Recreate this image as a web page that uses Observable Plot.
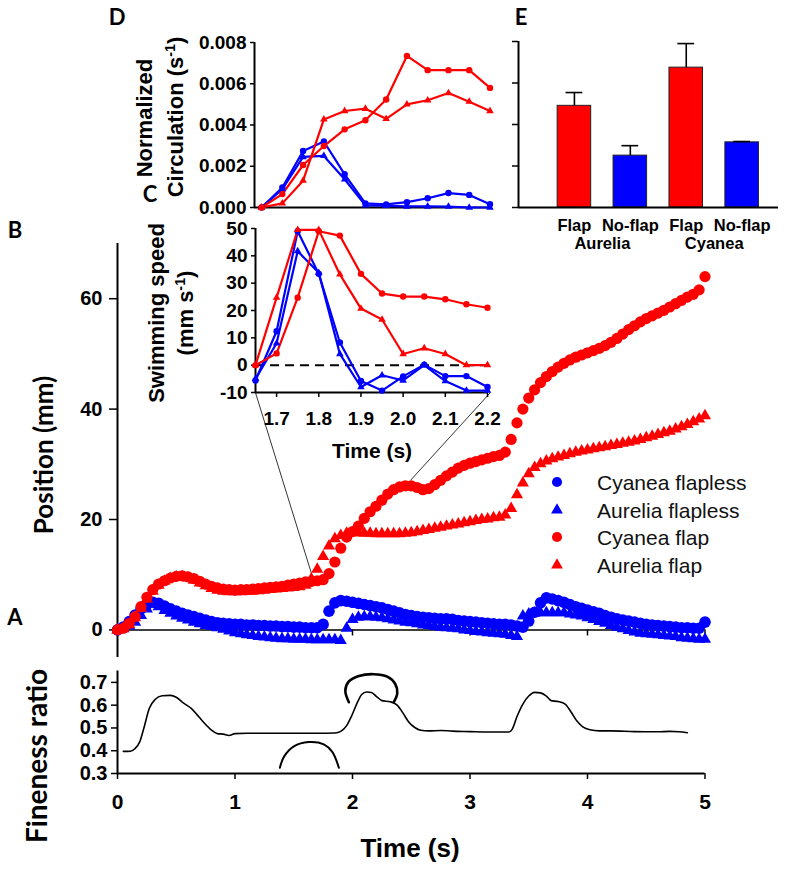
<!DOCTYPE html>
<html><head><meta charset="utf-8">
<script src="https://cdn.jsdelivr.net/npm/d3@7"></script>
<script src="https://cdn.jsdelivr.net/npm/@observablehq/plot@0.6"></script>
<style>
body{margin:0;background:#fff}
#wrap{position:relative;width:786px;height:873px;overflow:hidden;background:#fff}
#wrap > svg{position:absolute;left:0;top:0;background:transparent !important;overflow:visible}
.lab{position:absolute;white-space:nowrap;color:#000;line-height:1}
</style>
</head><body><div id="wrap"></div>
<script>
// ---------- DATA ----------
// Panel B: position (mm), sampled every 0.05 s from 0 to 5 s
const frameStep = 0.05;
const cyaneaFlap = [0,0.3,1.2,2.4,4.2,5.9,7.3,8.3,8.9,9.4,9.7,9.8,9.6,9.3,8.8,8.3,7.9,7.6,7.4,7.3,
  7.2,7.3,7.3,7.4,7.5,7.6,7.7,7.8,7.9,8.1,8.3,8.5,8.7,8.8,8.9,9.1,10.2,12.3,14.8,16.8,
  17.8,18.8,20.2,21.4,22.4,23.5,24.6,25.4,25.9,26.1,26.1,25.8,25.4,25.6,26.3,27.1,27.9,28.6,29.3,29.8,
  30.2,30.5,30.8,31.1,31.4,31.6,32.2,34.5,37.5,40.0,42.0,43.5,44.8,45.9,46.8,47.6,48.3,48.9,49.4,49.8,
  50.2,50.6,51.0,51.5,52.1,52.8,53.6,54.4,55.1,55.8,56.4,56.9,57.4,57.9,58.5,59.1,59.7,60.3,60.8,61.6,64.0];
const aureliaFlap = [0,0.3,1.0,2.2,3.9,5.6,7.0,8.1,8.8,9.3,9.6,9.6,9.4,9.0,8.5,8.0,7.5,7.2,7.0,6.9,
  6.9,6.9,7.0,7.0,7.1,7.2,7.3,7.4,7.5,7.6,7.7,7.8,8.1,9.2,11.0,13.3,15.2,16.5,17.1,17.5,
  17.6,17.6,17.5,17.5,17.4,17.4,17.4,17.4,17.4,17.5,17.6,17.8,18.0,18.2,18.4,18.6,18.8,19.0,19.2,19.4,
  19.6,19.8,20.0,20.1,20.3,20.4,20.8,22.0,24.5,26.6,28.3,29.4,30.1,30.6,31.0,31.3,31.6,31.9,32.2,32.4,
  32.6,32.8,33.0,33.2,33.4,33.6,33.8,34.0,34.2,34.5,34.8,35.1,35.4,35.7,36.0,36.4,36.8,37.2,37.7,38.2,38.8];
const cyaneaFlapless = [0,0.5,1.5,2.7,3.8,4.6,5.0,4.8,4.3,3.8,3.4,3.0,2.7,2.4,2.1,1.8,1.5,1.3,1.2,1.1,
  1.0,1.0,0.9,0.9,0.8,0.8,0.7,0.7,0.6,0.6,0.5,0.5,0.4,0.4,0.4,1.0,3.4,4.9,5.3,5.2,
  5.0,4.8,4.6,4.4,4.2,4.0,3.7,3.4,3.1,2.8,2.6,2.4,2.3,2.2,2.1,2.0,2.0,1.9,1.7,1.6,
  1.5,1.4,1.3,1.2,1.1,1.0,1.0,0.9,0.7,0.5,1.6,3.2,4.9,5.8,5.6,5.3,5.0,4.6,4.2,3.9,
  3.6,3.3,3.0,2.6,2.3,2.0,1.8,1.6,1.4,1.2,1.0,0.9,0.8,0.7,0.6,0.5,0.4,0.4,0.3,0.3,1.4];
const aureliaFlapless = [0,0.2,0.7,1.4,2.6,3.8,4.6,4.2,3.5,3.0,2.5,2.1,1.8,1.4,1.1,0.8,0.6,0.4,0.1,-0.2,
  -0.5,-0.7,-0.9,-1.0,-1.2,-1.3,-1.4,-1.5,-1.6,-1.6,-1.7,-1.7,-1.7,-1.8,-1.8,-1.8,-1.8,-1.8,-1.9,0.3,
  1.9,2.3,2.4,2.4,2.3,2.2,2.0,1.8,1.6,1.4,1.3,1.1,0.9,0.8,0.6,0.5,0.4,0.3,0.2,0.0,
  -0.1,-0.3,-0.4,-0.5,-0.6,-0.7,-0.8,-1.0,-1.2,2.5,2.9,3.0,3.1,3.1,3.1,3.1,3.1,2.9,2.7,2.5,
  2.2,1.9,1.5,1.2,0.8,0.5,0.2,-0.1,-0.4,-0.6,-0.7,-0.8,-0.9,-1.0,-1.1,-1.2,-1.4,-1.5,-1.6,-1.7,-1.7];
const posTicks = [0, 20, 40, 60];
const timeTicks = [0, 1, 2, 3, 4, 5];
const legendNames = ["Cyanea flapless", "Aurelia flapless", "Cyanea flap", "Aurelia flap"];

// Zoom connector lines (panel C -> panel B), in panel-B data units
const zoomLinks = [
  {t1: 1.174, mm1: 43.0, t2: 1.651, mm2: 10.2},
  {t1: 3.174, mm1: 43.0, t2: 2.494, mm2: 27.1}
];

// Panel A: fineness ratio
const fineT = [0.05,0.11,0.15,0.19,0.23,0.27,0.32,0.38,0.45,0.5,0.56,0.63,0.69,0.75,0.8,0.85,0.9,0.95,1.0,1.1,
  1.3,1.5,1.7,1.85,1.9,1.95,1.99,2.04,2.08,2.12,2.16,2.2,2.25,2.32,2.38,2.43,2.48,2.53,2.58,2.65,
  2.75,2.85,3.0,3.15,3.33,3.36,3.4,3.45,3.5,3.55,3.6,3.65,3.69,3.75,3.81,3.86,3.91,3.96,4.02,4.1,
  4.2,4.4,4.6,4.7,4.78,4.85];
const fineV = [0.397,0.398,0.41,0.44,0.51,0.585,0.625,0.641,0.643,0.635,0.61,0.585,0.55,0.515,0.49,0.475,0.473,0.467,0.475,0.477,
  0.477,0.477,0.477,0.478,0.485,0.51,0.55,0.61,0.648,0.658,0.656,0.64,0.62,0.615,0.6,0.565,0.525,0.502,0.49,0.487,
  0.489,0.486,0.484,0.482,0.482,0.495,0.55,0.605,0.64,0.656,0.654,0.64,0.62,0.616,0.605,0.57,0.53,0.505,0.492,0.487,
  0.487,0.484,0.483,0.485,0.483,0.479];
const fineTicks = [0.3, 0.4, 0.5, 0.6, 0.7];
// bell outline icons
const relaxedT = [1.382,1.416,1.501,1.628,1.756,1.828,1.884];
const relaxedV = [0.325,0.373,0.419,0.438,0.428,0.395,0.325];
const contractedT = [1.969,1.939,1.969,2.054,2.181,2.296,2.364,2.381,2.351];
const contractedV = [0.613,0.664,0.704,0.728,0.736,0.725,0.693,0.652,0.613];

// Panels C and D: inset time
const insetT = [1.65,1.70,1.75,1.80,1.85,1.90,1.95,2.00,2.05,2.10,2.15,2.20];
// Panel D: normalized circulation (s^-1)
const circCyaneaFlap = [0,0.00065,0.00206,0.00298,0.00379,0.00423,0.00524,0.00735,0.00666,0.00666,0.00666,0.0058];
const circAureliaFlap = [0,0.0002,0.0013,0.00427,0.00468,0.00479,0.0043,0.005,0.0052,0.00555,0.00513,0.00468];
const circCyaneaFlapless = [0,0.00097,0.00274,0.0032,0.00161,0.0002,0.00015,0.00026,0.00045,0.0007,0.00061,0.00016];
const circAureliaFlapless = [0,0.00089,0.00245,0.0025,0.00137,0.0001,0.00008,0.00005,0.00005,0.00004,0,0];
const circTicks = [0, 0.002, 0.004, 0.006, 0.008];
// Panel C: swimming speed (mm s^-1)
const speedCyaneaFlap = [0,4.3,24.7,49,47.4,33.4,26.2,25.1,25.1,24.1,22.3,21.0];
const speedAureliaFlap = [0,24.7,49.5,49.5,33.2,20.7,16.7,4.1,6.2,4.1,0,0];
const speedCyaneaFlapless = [-5.6,12.4,49,33.4,8.3,-5.8,-9.3,-4.1,0.2,-4,-4,-8];
const speedAureliaFlapless = [-5,8,41.7,33.8,4.1,-8,-3.7,-5.6,0,-5.8,-9.3,-9.3];
const speedTicks = [-10, 0, 10, 20, 30, 40, 50];
const insetTimeTicks = [1.7, 1.8, 1.9, 2.0, 2.1, 2.2];

// Panel E: bars
const barLabels = ["Flap", "No-flap", "Flap", "No-flap"];
const barSpecies = ["Aurelia", "Aurelia", "Cyanea", "Cyanea"];
const barValues = [0.0049, 0.0025, 0.00674, 0.00314];
const barErrors = [0.00064, 0.00048, 0.00116, 0.00004];
const barFlap = [true, false, true, false];
const speciesNames = ["Aurelia", "Cyanea"];
const barTicks = [0, 0.002, 0.004, 0.006, 0.008];

// ---------- RENDER ----------
const W = 786, H = 873;
const RED = "#ff0000", BLUE = "#0000ff";
const SANS = "'Liberation Sans', Arial, sans-serif";
const NARROW = "'Liberation Sans Narrow', 'Arial Narrow', 'Liberation Sans', sans-serif";
const HUMAN = "Lato, 'Open Sans', sans-serif";
const wrap = document.getElementById("wrap");

function box(x0, x1, y0, y1) {
  return {width: W, height: H, marginLeft: x0, marginRight: W - x1, marginTop: y0, marginBottom: H - y1,
    style: {background: "transparent", overflow: "visible"}};
}
function label(html, x, y, o = {}) {
  const d = document.createElement("div");
  d.className = "lab";
  d.innerHTML = html;
  d.style.left = x + "px"; d.style.top = y + "px";
  d.style.fontSize = (o.size || 20) + "px";
  d.style.fontWeight = o.weight || "bold";
  d.style.fontFamily = o.family || SANS;
  if (o.color) d.style.color = o.color;
  const anchor = o.anchor === "start" ? "0%" : "-50%";
  d.style.transform = `translate(${anchor},-50%)`;
  if (o.rotate) { d.style.transform = `translate(-50%,-50%) rotate(${o.rotate}deg)`; }
  wrap.appendChild(d);
}

const times = cyaneaFlap.map((_, i) => +(i * frameStep).toFixed(2));
const rows = (vals) => vals.map((v, i) => ({t: times[i], v}));
const inset = (vals) => vals.map((v, i) => ({t: insetT[i], v}));
const pairs = (ts, vs) => ts.map((t, i) => ({t, v: vs[i]}));

// Panel B
wrap.appendChild(Plot.plot({
  ...box(117, 704.5, 243, 657),
  x: {domain: [0, 5], axis: null},
  y: {domain: [-5, 70]},
  marks: [
    Plot.ruleX([0], {y1: -5, y2: 70, strokeWidth: 2}),
    Plot.axisY({ticks: posTicks, tickFormat: d => String(d), tickSize: 8, tickPadding: 7, fontSize: 20, fontWeight: "bold", fontFamily: SANS, label: null, strokeWidth: 1.5}),
    Plot.ruleY([0], {x1: 0, x2: 5, strokeWidth: 1.5}),
    Plot.ruleX(timeTicks, {y1: 0, y2: -1.1, strokeWidth: 1.5}),
    Plot.link(zoomLinks, {x1: "t1", y1: "mm1", x2: "t2", y2: "mm2", stroke: "#000", strokeWidth: 0.8}),
    Plot.dot(rows(cyaneaFlapless), {x: "t", y: "v", r: 5.8, fill: BLUE, symbol: "circle"}),
    Plot.dot(rows(aureliaFlapless), {x: "t", y: "v", r: 4.5, fill: BLUE, symbol: "triangle"}),
    Plot.dot(rows(cyaneaFlap), {x: "t", y: "v", r: 5.6, fill: RED, symbol: "circle"}),
    Plot.dot(rows(aureliaFlap), {x: "t", y: "v", r: 4.5, fill: RED, symbol: "triangle"})
  ]
}));

// Panel A
wrap.appendChild(Plot.plot({
  ...box(117, 704.5, 670.5, 773),
  x: {domain: [0, 5]},
  y: {domain: [0.3, 0.75]},
  marks: [
    Plot.ruleX([0], {y1: 0.3, y2: 0.75, strokeWidth: 2}),
    Plot.ruleY([0.3], {x1: 0, x2: 5, strokeWidth: 2}),
    Plot.axisY({ticks: fineTicks, tickFormat: d3.format(".1f"), tickSize: 6, tickPadding: 4, fontSize: 20, fontWeight: "bold", fontFamily: NARROW, label: null, strokeWidth: 1.5}),
    Plot.axisX({ticks: timeTicks, tickFormat: d => String(d), tickSize: 6, tickPadding: 15, fontSize: 21, fontWeight: "bold", fontFamily: NARROW, label: null, strokeWidth: 1.5}),
    Plot.line(pairs(fineT, fineV), {x: "t", y: "v", curve: "monotone-x", strokeWidth: 1.6}),
    Plot.line(pairs(relaxedT, relaxedV), {x: "t", y: "v", curve: "catmull-rom", strokeWidth: 2}),
    Plot.line(pairs(contractedT, contractedV), {x: "t", y: "v", curve: "catmull-rom", strokeWidth: 2.6})
  ]
}));

// Panel D
const dMin = 1.633;
wrap.appendChild(Plot.plot({
  ...box(254, 489.5, 42, 207),
  x: {domain: [dMin, 2.2], axis: null},
  y: {domain: [0, 0.008]},
  marks: [
    Plot.ruleX([dMin], {y1: 0, y2: 0.008, strokeWidth: 2}),
    Plot.ruleY([0], {x1: dMin, x2: 2.2, strokeWidth: 2}),
    Plot.axisY({ticks: circTicks, tickFormat: d3.format(".3f"), tickSize: 4, tickPadding: 4, fontSize: 19, fontWeight: "bold", fontFamily: SANS, label: null, strokeWidth: 1.5}),
    Plot.line(inset(circCyaneaFlapless), {x: "t", y: "v", stroke: BLUE, strokeWidth: 2.2}),
    Plot.line(inset(circAureliaFlapless), {x: "t", y: "v", stroke: BLUE, strokeWidth: 2.2}),
    Plot.line(inset(circCyaneaFlap), {x: "t", y: "v", stroke: RED, strokeWidth: 2.2}),
    Plot.line(inset(circAureliaFlap), {x: "t", y: "v", stroke: RED, strokeWidth: 2.2}),
    Plot.dot(inset(circCyaneaFlapless), {x: "t", y: "v", r: 3.2, fill: BLUE, symbol: "circle"}),
    Plot.dot(inset(circAureliaFlapless), {x: "t", y: "v", r: 2.8, fill: BLUE, symbol: "triangle"}),
    Plot.dot(inset(circCyaneaFlap), {x: "t", y: "v", r: 3.2, fill: RED, symbol: "circle"}),
    Plot.dot(inset(circAureliaFlap), {x: "t", y: "v", r: 2.8, fill: RED, symbol: "triangle"})
  ]
}));

// Panel C
wrap.appendChild(Plot.plot({
  ...box(255, 487, 228, 392),
  x: {domain: [1.65, 2.2]},
  y: {domain: [-10, 50]},
  marks: [
    Plot.ruleX([1.65], {y1: -10, y2: 50, strokeWidth: 2}),
    Plot.ruleY([-10], {x1: 1.65, x2: 2.2, strokeWidth: 2}),
    Plot.ruleY([0], {x1: 1.65, x2: 2.2, strokeWidth: 2, strokeDasharray: "9,6"}),
    Plot.axisY({ticks: speedTicks, tickFormat: d => String(d), tickSize: 4, tickPadding: 4, fontSize: 19, fontWeight: "bold", fontFamily: SANS, label: null, strokeWidth: 1.5}),
    Plot.axisX({ticks: insetTimeTicks, tickFormat: d3.format(".1f"), tickSize: 5, tickPadding: 14, fontSize: 19, fontWeight: "bold", fontFamily: SANS, label: null, strokeWidth: 1.5}),
    Plot.line(inset(speedCyaneaFlapless), {x: "t", y: "v", stroke: BLUE, strokeWidth: 2.2}),
    Plot.line(inset(speedAureliaFlapless), {x: "t", y: "v", stroke: BLUE, strokeWidth: 2.2}),
    Plot.line(inset(speedCyaneaFlap), {x: "t", y: "v", stroke: RED, strokeWidth: 2.2}),
    Plot.line(inset(speedAureliaFlap), {x: "t", y: "v", stroke: RED, strokeWidth: 2.2}),
    Plot.dot(inset(speedCyaneaFlapless), {x: "t", y: "v", r: 3.2, fill: BLUE, symbol: "circle"}),
    Plot.dot(inset(speedAureliaFlapless), {x: "t", y: "v", r: 2.8, fill: BLUE, symbol: "triangle"}),
    Plot.dot(inset(speedCyaneaFlap), {x: "t", y: "v", r: 3.2, fill: RED, symbol: "circle"}),
    Plot.dot(inset(speedAureliaFlap), {x: "t", y: "v", r: 2.8, fill: RED, symbol: "triangle"})
  ]
}));

// Panel E
const bars = barValues.map((v, i) => ({pos: i + 1, v, top: v + barErrors[i], label: barLabels[i], species: barSpecies[i], flap: barFlap[i]}));
const groups = speciesNames.map((s) => ({species: s, pos: d3.mean(bars.filter(b => b.species === s), b => b.pos)}));
wrap.appendChild(Plot.plot({
  ...box(518, 778, 41, 207),
  x: {domain: [0, 4.65], axis: null},
  y: {domain: [0, 0.008]},
  marks: [
    Plot.rect(bars, {x1: d => d.pos - 0.3, x2: d => d.pos + 0.3, y1: 0, y2: "v", fill: d => d.flap ? RED : BLUE, stroke: "#222", strokeWidth: 1}),
    Plot.ruleX(bars, {x: "pos", y1: "v", y2: "top", strokeWidth: 1.6}),
    Plot.ruleY(bars, {y: "top", x1: d => d.pos - 0.15, x2: d => d.pos + 0.15, strokeWidth: 1.6}),
    Plot.ruleX([0], {y1: 0, y2: 0.008, strokeWidth: 2}),
    Plot.ruleY([0], {x1: 0, x2: 4.65, strokeWidth: 2}),
    Plot.axisY({ticks: barTicks, tickFormat: () => "", tickSize: 6, label: null, strokeWidth: 1.5}),
    Plot.text(bars, {x: "pos", y: 0, text: "label", dy: 18, fontSize: 16.5, fontWeight: "bold", fontFamily: SANS, fill: "#000"}),
    Plot.text(groups, {x: "pos", y: 0, text: "species", dy: 36, fontSize: 16.5, fontWeight: "bold", fontFamily: SANS, fill: "#000"})
  ]
}));

// Legend
const legendColors = [BLUE, BLUE, RED, RED];
const legendShapes = ["circle", "triangle", "circle", "triangle"];
legendNames.forEach((name, i) => {
  const y = 482 + i * 27.5;
  const s = document.createElementNS("http://www.w3.org/2000/svg", "svg");
  s.setAttribute("width", 16); s.setAttribute("height", 16);
  s.style.cssText = `position:absolute;left:${557 - 8}px;top:${y - 8}px;overflow:visible`;
  const sym = legendShapes[i] === "circle" ? d3.symbolCircle : d3.symbolTriangle;
  const p = document.createElementNS("http://www.w3.org/2000/svg", "path");
  p.setAttribute("d", d3.symbol(sym, legendShapes[i] === "circle" ? 80 : 60)());
  p.setAttribute("transform", "translate(8,8)");
  p.setAttribute("fill", legendColors[i]);
  s.appendChild(p);
  wrap.appendChild(s);
  label(name, 597, y, {size: 21, weight: "normal", family: SANS, anchor: "start", color: "#111"});
});

// Titles and panel letters
label("Normalized", 145, 118, {size: 22, rotate: -90});
label("Circulation (s<sup style='font-size:0.65em'>-1</sup>)", 175, 117, {size: 22, rotate: -90});
label("Swimming speed", 157, 313, {size: 22, rotate: -90});
label("(mm s<sup style='font-size:0.65em'>-1</sup>)", 185, 313, {size: 22, rotate: -90});
label("Time (s)", 372, 450, {size: 21});
label("Position (mm)", 43, 455, {size: 26, family: HUMAN, rotate: -90});
label("Fineness ratio", 36, 756, {size: 28, family: HUMAN, rotate: -90});
label("Time (s)", 410, 848, {size: 26, family: NARROW});
label("D", 117, 17, {size: 22, family: HUMAN});
label("E", 521, 17, {size: 22, family: HUMAN});
label("C", 150, 194, {size: 22, family: HUMAN});
label("B", 15, 230, {size: 22, family: HUMAN});
label("A", 15, 617, {size: 22, family: HUMAN});
</script></body></html>
